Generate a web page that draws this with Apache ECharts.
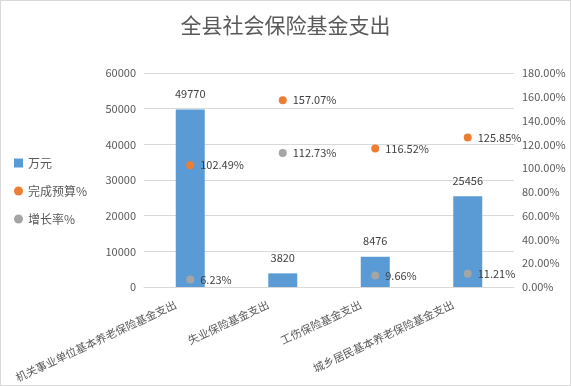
<!DOCTYPE html>
<html><head><meta charset="utf-8">
<script src="https://cdn.jsdelivr.net/npm/echarts@6/dist/echarts.min.js"></script>
<style>html,body{margin:0;padding:0;background:#fff}#c{width:569px;height:384px;border:1px solid #d9d9d9}</style>
</head><body><div id="c"></div>
<script>
var categories = ['机关事业单位基本养老保险基金支出','失业保险基金支出','工伤保险基金支出','城乡居民基本养老保险基金支出'];
var wanyuan = [49770, 3820, 8476, 25456];
var budgetPct = [102.49, 157.07, 116.52, 125.85];
var growthPct = [6.23, 112.73, 9.66, 11.21];
var font = '"Noto Sans CJK SC", sans-serif';
var chart = echarts.init(document.getElementById('c'));
chart.setOption({
  animation: false,
  textStyle: {fontFamily: font},
  title: {text: '全县社会保险基金支出', left: 'center', top: 9,
    textStyle: {fontSize: 21, fontWeight: 'normal', color: '#595959', fontFamily: font}},
  legend: {orient: 'vertical', left: 8, top: 151, itemGap: 16, itemWidth: 9, itemHeight: 9,
    textStyle: {fontSize: 12, color: '#595959'},
    data: [{name: '万元', icon: 'rect'}, {name: '完成预算%', icon: 'circle'}, {name: '增长率%', icon: 'circle'}]},
  grid: {left: 143, right: 56, top: 72, bottom: 98},
  xAxis: {type: 'category', data: categories,
    axisLine: {lineStyle: {color: '#d9d9d9'}}, axisTick: {show: false},
    axisLabel: {rotate: 25, fontSize: 11, color: '#595959', interval: 0, margin: 10, padding: [0, 16, 0, 0]}},
  yAxis: [
    {type: 'value', min: 0, max: 60000, interval: 10000,
     axisLine: {show: false}, axisTick: {show: false},
     splitLine: {lineStyle: {color: '#d9d9d9'}},
     axisLabel: {fontSize: 11, color: '#595959', margin: 8, formatter: function(v){return String(v);}}},
    {type: 'value', min: 0, max: 180, interval: 20,
     axisLine: {show: false}, axisTick: {show: false}, splitLine: {show: false},
     axisLabel: {fontSize: 11, color: '#595959', margin: 8, formatter: function(v){return v.toFixed(2)+'%';}}}
  ],
  series: [
    {name: '万元', type: 'bar', data: wanyuan, barWidth: 29, itemStyle: {color: '#5b9bd5'},
     label: {show: true, position: 'top', fontSize: 11, color: '#404040', distance: 10}},
    {name: '完成预算%', type: 'scatter', yAxisIndex: 1, data: budgetPct, symbolSize: 8,
     itemStyle: {color: '#ed7d31', opacity: 1},
     label: {show: true, position: 'right', fontSize: 11, color: '#404040', distance: 6,
       formatter: function(p){return p.value.toFixed(2)+'%';}}},
    {name: '增长率%', type: 'scatter', yAxisIndex: 1, data: growthPct, symbolSize: 8,
     itemStyle: {color: '#a5a5a5', opacity: 1},
     label: {show: true, position: 'right', fontSize: 11, color: '#404040', distance: 6,
       formatter: function(p){return p.value.toFixed(2)+'%';}}}
  ]
});
</script></body></html>
